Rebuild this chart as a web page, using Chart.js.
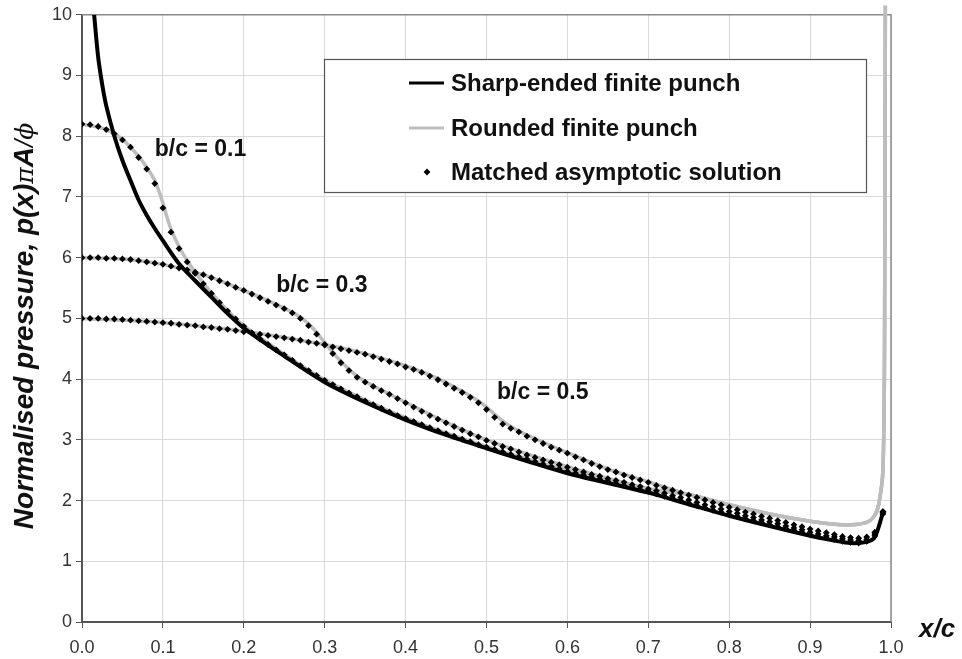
<!DOCTYPE html>
<html>
<head>
<meta charset="utf-8">
<script src="https://cdn.jsdelivr.net/npm/chart.js@4.4.1/dist/chart.umd.min.js"></script>
<style>
  html, body { margin: 0; padding: 0; background: #fff; }
  #wrap { width: 962px; height: 659px; }
</style>
</head>
<body>
<div id="wrap"><canvas id="chart" width="962" height="659"></canvas></div>
<script>
// x/c positions of the matched asymptotic dots
const xDots = [
  0.00, 0.01, 0.02, 0.03, 0.04, 0.05, 0.06, 0.07, 0.08, 0.09,
  0.10, 0.11, 0.12, 0.13, 0.14, 0.15, 0.16, 0.17, 0.18, 0.19,
  0.20, 0.21, 0.22, 0.23, 0.24, 0.25, 0.26, 0.27, 0.28, 0.29,
  0.30, 0.31, 0.32, 0.33, 0.34, 0.35, 0.36, 0.37, 0.38, 0.39,
  0.40, 0.41, 0.42, 0.43, 0.44, 0.45, 0.46, 0.47, 0.48, 0.49,
  0.50, 0.51, 0.52, 0.53, 0.54, 0.55, 0.56, 0.57, 0.58, 0.59,
  0.60, 0.61, 0.62, 0.63, 0.64, 0.65, 0.66, 0.67, 0.68, 0.69,
  0.70, 0.71, 0.72, 0.73, 0.74, 0.75, 0.76, 0.77, 0.78, 0.79,
  0.80, 0.81, 0.82, 0.83, 0.84, 0.85, 0.86, 0.87, 0.88, 0.89,
  0.90, 0.91, 0.92, 0.93, 0.94, 0.95, 0.96, 0.97, 0.98, 0.99
];

// matched asymptotic solution, b/c = 0.1
const asym01 = [
  8.20, 8.19, 8.16, 8.11, 8.04, 7.94, 7.82, 7.65, 7.46, 7.22,
  6.82, 6.42, 6.15, 5.93, 5.74, 5.57, 5.41, 5.26, 5.12, 4.99,
  4.87, 4.76, 4.66, 4.57, 4.48, 4.40, 4.31, 4.22, 4.14, 4.06,
  3.98, 3.91, 3.84, 3.77, 3.71, 3.64, 3.58, 3.52, 3.46, 3.40,
  3.35, 3.30, 3.25, 3.20, 3.15, 3.10, 3.06, 3.01, 2.97, 2.92,
  2.88, 2.84, 2.80, 2.76, 2.72, 2.68, 2.64, 2.60, 2.56, 2.52,
  2.48, 2.45, 2.42, 2.38, 2.35, 2.32, 2.28, 2.25, 2.22, 2.18,
  2.15, 2.11, 2.07, 2.04, 2.00, 1.96, 1.92, 1.88, 1.84, 1.81,
  1.77, 1.74, 1.70, 1.67, 1.64, 1.60, 1.57, 1.54, 1.51, 1.48,
  1.44, 1.41, 1.39, 1.36, 1.33, 1.31, 1.30, 1.33, 1.42, 1.78
];

// matched asymptotic solution, b/c = 0.3
const asym03 = [
  6.00, 6.00, 6.00, 5.99, 5.99, 5.98, 5.97, 5.95, 5.93, 5.91,
  5.89, 5.86, 5.83, 5.80, 5.76, 5.72, 5.67, 5.62, 5.57, 5.51,
  5.46, 5.40, 5.34, 5.28, 5.22, 5.16, 5.09, 5.00, 4.88, 4.74,
  4.57, 4.42, 4.27, 4.14, 4.03, 3.95, 3.88, 3.81, 3.75, 3.68,
  3.61, 3.54, 3.47, 3.40, 3.34, 3.28, 3.22, 3.16, 3.10, 3.05,
  2.99, 2.94, 2.89, 2.85, 2.80, 2.75, 2.71, 2.67, 2.63, 2.59,
  2.55, 2.51, 2.47, 2.43, 2.40, 2.36, 2.33, 2.30, 2.26, 2.23,
  2.19, 2.16, 2.12, 2.08, 2.05, 2.01, 1.97, 1.93, 1.90, 1.86,
  1.82, 1.79, 1.75, 1.72, 1.68, 1.65, 1.62, 1.58, 1.55, 1.52,
  1.48, 1.45, 1.42, 1.40, 1.37, 1.35, 1.34, 1.36, 1.45, 1.80
];

// matched asymptotic solution, b/c = 0.5
const asym05 = [
  5.00, 5.00, 5.00, 4.99, 4.99, 4.98, 4.97, 4.96, 4.95, 4.94,
  4.93, 4.92, 4.90, 4.89, 4.88, 4.86, 4.85, 4.83, 4.82, 4.80,
  4.78, 4.76, 4.74, 4.72, 4.70, 4.68, 4.66, 4.64, 4.61, 4.59,
  4.56, 4.53, 4.50, 4.47, 4.44, 4.41, 4.37, 4.33, 4.29, 4.25,
  4.20, 4.16, 4.11, 4.05, 3.99, 3.92, 3.85, 3.78, 3.70, 3.61,
  3.50, 3.37, 3.26, 3.19, 3.13, 3.06, 3.00, 2.94, 2.88, 2.83,
  2.78, 2.72, 2.67, 2.61, 2.56, 2.51, 2.47, 2.42, 2.38, 2.34,
  2.30, 2.25, 2.21, 2.17, 2.13, 2.09, 2.05, 2.01, 1.97, 1.93,
  1.89, 1.85, 1.81, 1.78, 1.74, 1.71, 1.67, 1.64, 1.60, 1.57,
  1.53, 1.50, 1.47, 1.44, 1.41, 1.39, 1.38, 1.40, 1.48, 1.82
];

// sharp-ended finite punch (black line)
const sharpX = [0.015, 0.02, 0.025, 0.03, 0.04, 0.05, 0.06, 0.07, 0.08, 0.09,
  0.10, 0.12, 0.14, 0.16, 0.18, 0.20, 0.25, 0.30, 0.35, 0.40, 0.45, 0.50,
  0.55, 0.60, 0.65, 0.70, 0.75, 0.80, 0.85, 0.90, 0.93, 0.95, 0.97, 0.98, 0.99];
const sharpP = [10.0, 9.3, 8.85, 8.5, 8.0, 7.6, 7.27, 6.95, 6.7, 6.48,
  6.28, 5.9, 5.62, 5.35, 5.08, 4.84, 4.38, 3.95, 3.62, 3.33, 3.08, 2.86,
  2.65, 2.45, 2.29, 2.13, 1.94, 1.75, 1.58, 1.42, 1.34, 1.30, 1.32, 1.40, 1.80];

// rounded finite punch (grey lines), head of each curve
const round01X = [0, 0.03, 0.05, 0.07, 0.08, 0.09, 0.095, 0.10, 0.105, 0.11, 0.12,
  0.13, 0.15, 0.17, 0.20, 0.25, 0.30, 0.40, 0.50, 0.60, 0.70];
const round01P = [8.20, 8.11, 7.95, 7.67, 7.49, 7.27, 7.10, 6.90, 6.67, 6.47, 6.18,
  5.95, 5.58, 5.27, 4.88, 4.41, 3.99, 3.36, 2.89, 2.50, 2.18];
const round03X = [0, 0.05, 0.10, 0.15, 0.20, 0.24, 0.26, 0.27, 0.28, 0.29, 0.30,
  0.31, 0.32, 0.34, 0.36, 0.40, 0.45, 0.50, 0.60, 0.70];
const round03P = [6.00, 5.98, 5.89, 5.72, 5.46, 5.23, 5.10, 5.02, 4.91, 4.77, 4.60,
  4.44, 4.29, 4.05, 3.89, 3.62, 3.29, 3.00, 2.56, 2.20];
const round05X = [0, 0.10, 0.20, 0.30, 0.35, 0.40, 0.44, 0.47, 0.49, 0.50, 0.51,
  0.52, 0.53, 0.55, 0.60, 0.65, 0.70];
const round05P = [5.00, 4.93, 4.79, 4.57, 4.42, 4.22, 4.01, 3.80, 3.64, 3.54, 3.42,
  3.31, 3.22, 3.08, 2.79, 2.52, 2.31];
// shared tail near the punch edge
const roundTailX = [0.75, 0.80, 0.85, 0.90, 0.93, 0.95, 0.97, 0.98, 0.985, 0.99, 0.992, 0.993];
const roundTailP = [2.10, 1.93, 1.78, 1.66, 1.61, 1.60, 1.64, 1.76, 1.95, 2.50, 4.50, 10.15];

const legendLabels = ["Sharp-ended finite punch", "Rounded finite punch", "Matched asymptotic solution"];
const noteLabels = ["b/c = 0.1", "b/c = 0.3", "b/c = 0.5"];

const FONT = "'Liberation Sans', Arial, sans-serif";
const GREY = "#bdbdbd";

function pts(xs, ys) {
  return xs.map((x, i) => ({ x: x, y: ys[i] }));
}

function greyLine(xs, ys) {
  return {
    label: legendLabels[1],
    data: pts(xs.concat(roundTailX), ys.concat(roundTailP)),
    borderColor: GREY,
    borderWidth: 3.5,
    pointRadius: 0,
    tension: 0.3,
    clip: false,
    order: 3
  };
}

function dots(ys) {
  return {
    label: legendLabels[2],
    data: pts(xDots, ys),
    showLine: false,
    pointStyle: "rectRot",
    pointRadius: 3.4,
    backgroundColor: "#000",
    borderColor: "#000",
    borderWidth: 0,
    order: 1
  };
}

const datasets = [
  greyLine(round01X, round01P),
  greyLine(round03X, round03P),
  greyLine(round05X, round05P),
  {
    label: legendLabels[0],
    data: pts(sharpX, sharpP),
    borderColor: "#000",
    borderWidth: 4,
    pointRadius: 0,
    tension: 0.3,
    order: 2
  },
  dots(asym01),
  dots(asym03),
  dots(asym05)
];

// top and right border of the plot
const frame = {
  id: "frame",
  beforeDatasetsDraw(chart) {
    const a = chart.chartArea, ctx = chart.ctx;
    ctx.save();
    ctx.strokeStyle = "#8a8a8a";
    ctx.lineWidth = 1.5;
    ctx.beginPath();
    ctx.moveTo(a.left, a.top);
    ctx.lineTo(a.right, a.top);
    ctx.lineTo(a.right, a.bottom);
    ctx.stroke();
    ctx.restore();
  }
};

// b/c labels next to each curve
const notes = {
  id: "notes",
  afterDatasetsDraw(chart) {
    const ctx = chart.ctx, xs = chart.scales.x, ys = chart.scales.y;
    const at = [[0.09, 7.78], [0.24, 5.54], [0.513, 3.77]];
    ctx.save();
    ctx.font = "bold 23px " + FONT;
    ctx.fillStyle = "#111";
    ctx.textBaseline = "middle";
    noteLabels.forEach((t, i) => {
      ctx.fillText(t, xs.getPixelForValue(at[i][0]), ys.getPixelForValue(at[i][1]));
    });
    ctx.restore();
  }
};

// legend box inside the plot
const legendBox = {
  id: "legendBox",
  afterDraw(chart) {
    const ctx = chart.ctx;
    const box = { l: 324, t: 59, r: 866, b: 192 };
    ctx.save();
    ctx.fillStyle = "#fff";
    ctx.fillRect(box.l, box.t, box.r - box.l, box.b - box.t);
    ctx.strokeStyle = "#555";
    ctx.lineWidth = 1.2;
    ctx.strokeRect(box.l + 0.5, box.t + 0.5, box.r - box.l, box.b - box.t);
    const rows = [83, 128, 172];
    ctx.lineWidth = 3;
    ctx.strokeStyle = "#000";
    ctx.beginPath(); ctx.moveTo(409, rows[0]); ctx.lineTo(444, rows[0]); ctx.stroke();
    ctx.strokeStyle = GREY;
    ctx.beginPath(); ctx.moveTo(409, rows[1]); ctx.lineTo(444, rows[1]); ctx.stroke();
    ctx.fillStyle = "#000";
    ctx.beginPath();
    ctx.moveTo(427, rows[2] - 3.4); ctx.lineTo(430.4, rows[2]);
    ctx.lineTo(427, rows[2] + 3.4); ctx.lineTo(423.6, rows[2]);
    ctx.closePath(); ctx.fill();
    ctx.font = "bold 24px " + FONT;
    ctx.fillStyle = "#111";
    ctx.textBaseline = "middle";
    legendLabels.forEach((t, i) => ctx.fillText(t, 451, rows[i] + 1));
    ctx.restore();
  }
};

// axis titles: x/c at the right end, rotated pressure label on the left
const titles = {
  id: "titles",
  afterDraw(chart) {
    const ctx = chart.ctx;
    ctx.save();
    ctx.fillStyle = "#111";
    ctx.textBaseline = "middle";
    ctx.font = "italic bold 26px " + FONT;
    ctx.fillText("x/c", 919, 630);

    const parts = [
      ["Normalised pressure, p(x)", "italic bold 28px " + FONT],
      ["\u03C0", "italic 25px 'DejaVu Serif', serif"],
      ["A", "italic bold 28px " + FONT],
      ["/", "italic 26px " + FONT],
      ["\u03D5", "italic 25px 'DejaVu Serif', serif"]
    ];
    let total = 0;
    parts.forEach(p => { ctx.font = p[1]; total += ctx.measureText(p[0]).width; });
    ctx.textBaseline = "alphabetic";
    ctx.translate(33, 326);
    ctx.rotate(-Math.PI / 2);
    let x = -total / 2;
    parts.forEach(p => {
      ctx.font = p[1];
      ctx.fillText(p[0], x, 0);
      x += ctx.measureText(p[0]).width;
    });
    ctx.restore();
  }
};

new Chart(document.getElementById("chart").getContext("2d"), {
  type: "line",
  data: { datasets },
  options: {
    responsive: false,
    devicePixelRatio: 1,
    animation: false,
    layout: { padding: { top: 14, right: 71, bottom: 0, left: 0 } },
    plugins: { legend: { display: false }, tooltip: { enabled: false } },
    scales: {
      x: {
        type: "linear",
        min: 0,
        max: 1,
        ticks: {
          stepSize: 0.1,
          padding: 9,
          color: "#333",
          font: { family: FONT, size: 18 },
          callback: v => v.toFixed(1)
        },
        grid: { color: "#d9d9d9", lineWidth: 1, tickColor: "#555", tickLength: 6 },
        border: { color: "#555", width: 2 },
        afterFit: s => { s.height = 37; }
      },
      y: {
        min: 0,
        max: 10,
        ticks: {
          stepSize: 1,
          padding: 4,
          color: "#333",
          font: { family: FONT, size: 18 }
        },
        grid: { color: "#d9d9d9", lineWidth: 1, tickColor: "#555", tickLength: 6 },
        border: { color: "#555", width: 2 },
        afterFit: s => { s.width = 82; }
      }
    }
  },
  plugins: [frame, notes, legendBox, titles]
});
</script>
</body>
</html>
